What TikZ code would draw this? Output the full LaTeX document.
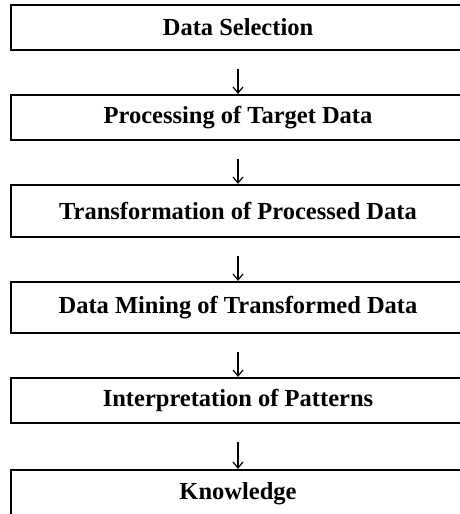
\documentclass[tikz,border=0pt]{standalone}
\usepackage{fontspec}
\setmainfont{Liberation Serif}
\usetikzlibrary{arrows.meta}
\begin{document}
\begin{tikzpicture}[x=1pt,y=-1pt,
  stagebox/.style={draw,line width=2.2pt,minimum width=454pt,inner sep=0pt,
    font=\fontsize{24.5}{28}\selectfont\bfseries},
  flow/.style={line width=1.2pt,-{Straight Barb[length=6pt,width=10pt]}}]
\useasboundingbox (0,0) rectangle (460,514);
\clip (0,0) rectangle (460,514);
\node[stagebox,minimum height=45pt] (b1) at (238,27.5) {Data Selection};
\node[stagebox,minimum height=45pt] (b2) at (238,117.5) {Processing of Target Data};
\node[stagebox,minimum height=52pt] (b3) at (238,211) {Transformation of Processed Data};
\node[stagebox,minimum height=51pt] (b4) at (238,307.5) {Data Mining of Transformed Data};
\node[stagebox,minimum height=45pt] (b5) at (238,400.5) {Interpretation of Patterns};
\node[stagebox,minimum height=48pt] (b6) at (238,494) {Knowledge};
\foreach \a/\b in {b1/b2,b2/b3,b3/b4,b4/b5,b5/b6}
  \draw[flow] ([yshift=-18pt]\a.south) -- (\b.north);
\end{tikzpicture}
\end{document}
